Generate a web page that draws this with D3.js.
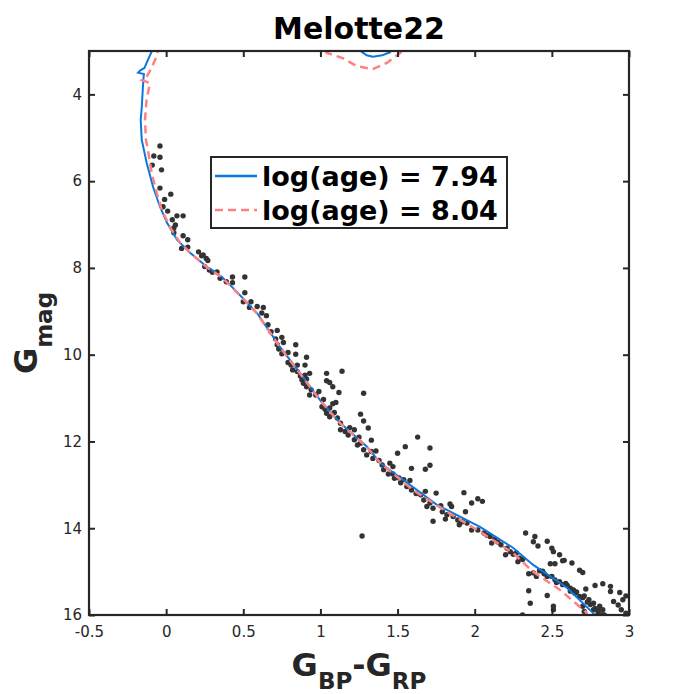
<!DOCTYPE html>
<html>
<head>
<meta charset="utf-8">
<script src="https://cdn.jsdelivr.net/npm/d3@7"></script>
<style>
  body { margin: 0; background: #fff; }
  svg { display: block; }
  text { font-family: "DejaVu Sans", sans-serif; }
</style>
</head>
<body>
<svg id="chart" width="694" height="694"></svg>
<script>
// Melotte22 colour-magnitude diagram
const titleText = 'Melotte22';
const xTicks = [-0.5, 0, 0.5, 1, 1.5, 2, 2.5, 3];
const yTicks = [4, 6, 8, 10, 12, 14, 16];
const legendLabels = ['log(age) = 7.94', 'log(age) = 8.04'];

// member stars: [BP-RP, G]
const stars = [
  [-0.04, 5.19], [-0.08, 5.42], [-0.04, 5.45], [-0.09, 5.63], [-0.03, 5.74], [-0.04, 6.16],
  [0.03, 6.30], [-0.01, 6.42], [-0.02, 6.59], [0.01, 6.69], [0.07, 6.80], [0.11, 6.80],
  [0.04, 6.89], [0.06, 7.01], [0.05, 7.08], [0.05, 7.19], [0.11, 7.26], [0.14, 7.35],
  [0.10, 7.55], [0.14, 7.52], [0.21, 7.63], [0.23, 7.72], [0.24, 7.70], [0.26, 7.78],
  [0.27, 7.83], [0.25, 7.97], [0.28, 8.05], [0.30, 8.10], [0.33, 8.09], [0.35, 8.24],
  [0.39, 8.32], [0.43, 8.21], [0.51, 8.21], [0.43, 8.34],
  [0.51, 8.57], [0.50, 8.78], [0.55, 8.78], [0.59, 8.89], [0.63, 8.91], [0.54, 8.91],
  [0.62, 9.04], [0.65, 9.10], [0.66, 9.31], [0.68, 9.47], [0.72, 9.44], [0.71, 9.64],
  [0.75, 9.60], [0.76, 9.72], [0.72, 9.77], [0.73, 9.87], [0.79, 9.95], [0.75, 9.98],
  [0.84, 9.77], [0.84, 9.99], [0.91, 10.06], [0.79, 10.18], [0.81, 10.24], [0.85, 10.24],
  [0.90, 10.24], [0.82, 10.35], [0.85, 10.39], [0.87, 10.49], [0.90, 10.47], [0.93, 10.43],
  [0.88, 10.58], [0.91, 10.56], [0.89, 10.66], [0.91, 10.74], [0.94, 10.81], [0.93, 10.93],
  [0.97, 10.93], [0.99, 10.85], [1.02, 11.03], [1.04, 10.43], [1.04, 10.60], [1.06, 10.64],
  [1.08, 10.74], [1.14, 10.38], [1.12, 10.87], [1.01, 11.20], [1.03, 11.26], [1.06, 11.23],
  [1.08, 11.13], [1.10, 11.10], [1.04, 11.35], [1.06, 11.43], [1.09, 11.33], [1.11, 11.46],
  [1.13, 11.58], [1.13, 11.73], [1.16, 11.77], [1.19, 11.68], [1.22, 11.73], [1.18, 11.85],
  [1.22, 11.96], [1.25, 11.90], [1.24, 12.08], [1.26, 12.04], [1.28, 10.89], [1.26, 11.37],
  [1.28, 11.53], [1.31, 11.69], [1.33, 11.97], [1.28, 12.19], [1.30, 12.31], [1.33, 12.23],
  [1.36, 12.22], [1.34, 12.39], [1.38, 12.44], [1.40, 12.54], [1.41, 12.65], [1.45, 12.50],
  [1.47, 12.58], [1.44, 12.75], [1.47, 12.75], [1.48, 12.85], [1.50, 12.27], [1.55, 12.12],
  [1.63, 11.90], [1.59, 12.62], [1.54, 12.88], [1.58, 12.90], [1.56, 13.04], [1.59, 13.12],
  [1.65, 13.23], [1.68, 13.15], [1.68, 12.64], [1.71, 12.55], [1.71, 12.15], [1.75, 13.19],
  [1.27, 14.18], [1.73, 13.84], [1.81, 13.79], [1.51, 12.84],
  [1.67, 13.35], [1.71, 13.42], [1.69, 13.50], [1.73, 13.54], [1.78, 13.48], [1.84, 13.44],
  [1.85, 13.50], [1.79, 13.62], [1.82, 13.69], [1.86, 13.73], [1.89, 13.81], [1.93, 13.18],
  [1.94, 13.62], [1.98, 13.42], [2.02, 13.32], [2.05, 13.38], [1.90, 13.92], [1.95, 13.88],
  [1.98, 14.04], [2.02, 14.04], [2.06, 14.11], [2.10, 14.19], [2.13, 14.25], [2.11, 14.34],
  [2.17, 14.38], [2.21, 14.46], [2.23, 14.54], [2.20, 14.61], [2.27, 14.57], [2.29, 14.69],
  [2.28, 14.77], [2.33, 14.11], [2.39, 14.19], [2.38, 14.31], [2.41, 14.41], [2.47, 14.30],
  [2.50, 14.46], [2.51, 14.54], [2.55, 14.61], [2.49, 14.82], [2.52, 14.82], [2.57, 14.75],
  [2.63, 14.80], [2.68, 14.97], [2.70, 15.02], [2.35, 15.05], [2.38, 15.03], [2.40, 15.11],
  [2.44, 14.99], [2.47, 15.11], [2.50, 15.11], [2.52, 15.19], [2.55, 15.23], [2.59, 15.27],
  [2.62, 15.38], [2.65, 15.50], [2.68, 15.57], [2.71, 15.56], [2.74, 15.65], [2.77, 15.73],
  [2.70, 15.80], [2.77, 15.88], [2.81, 15.80], [2.80, 15.96], [2.83, 16.00], [2.72, 15.40],
  [2.78, 15.32], [2.83, 15.28], [2.88, 15.34], [2.88, 15.46], [2.94, 15.48], [2.90, 15.69],
  [2.93, 15.77], [2.96, 15.65], [2.98, 15.56], [2.95, 15.88], [2.98, 15.96], [2.35, 15.44],
  [2.36, 15.73], [2.47, 15.55], [2.51, 15.80], [2.51, 15.88], [2.31, 16.00], [2.84, 16.00],
  [2.58, 14.74], [2.83, 15.88], [2.82, 16.00], [2.71, 15.92],
  [2.60, 15.32], [2.64, 15.42], [2.66, 15.47], [2.70, 15.60], [2.73, 15.70], [2.75, 15.76],
  [2.78, 15.85], [2.80, 15.90], [2.62, 15.45], [2.57, 15.30], [2.53, 15.25], [2.45, 15.05],
  [2.42, 14.98], [1.52, 12.95], [1.62, 13.20], [1.92, 13.85], [2.08, 14.16], [2.15, 14.32],
  [2.25, 14.60], [2.31, 14.72]
];

// isochrone log(age) = 7.94, from faint end up through the turn-off
const isoYoung = [
  [2.79, 16.05], [2.766, 15.95], [2.598, 15.37], [2.377, 14.84], [2.248, 14.45], [2.034, 13.97],
  [1.755, 13.46], [1.600, 13.05], [1.386, 12.49], [1.302, 12.12], [1.127, 11.57], [0.997, 11.04],
  [0.867, 10.42], [0.738, 9.82], [0.589, 9.04], [0.433, 8.46], [0.362, 8.21], [0.265, 7.98],
  [0.155, 7.65], [0.070, 7.35], [0.006, 6.96], [-0.040, 6.59], [-0.085, 6.13], [-0.126, 5.58],
  [-0.158, 5.05], [-0.165, 4.59], [-0.158, 4.29], [-0.148, 3.67], [-0.144, 3.53], [-0.182, 3.50],
  [-0.169, 3.45], [-0.140, 3.39], [-0.124, 3.25], [-0.092, 3.00], [-0.07, 2.7], [0.3, 1.6],
  [1.1, 1.8], [1.25, 2.9], [1.267, 3.02], [1.30, 3.10], [1.34, 3.13], [1.40, 3.10],
  [1.45, 3.03], [1.50, 2.8], [1.7, 1.0]
];

// isochrone log(age) = 8.04
const isoOld = [
  [2.715, 16.05], [2.727, 15.95], [2.552, 15.42], [2.377, 15.00], [2.248, 14.57], [2.034, 14.08],
  [1.820, 13.62], [1.600, 13.12], [1.386, 12.49], [1.302, 12.13], [1.127, 11.58], [0.997, 11.05],
  [0.867, 10.43], [0.738, 9.83], [0.589, 9.05], [0.433, 8.47], [0.362, 8.22], [0.265, 7.99],
  [0.155, 7.65], [0.090, 7.42], [0.025, 7.06], [-0.029, 6.66], [-0.061, 6.27], [-0.094, 5.81],
  [-0.118, 5.28], [-0.131, 5.05], [-0.137, 4.59], [-0.127, 4.13], [-0.105, 3.74], [-0.157, 3.67],
  [-0.124, 3.58], [-0.098, 3.41], [-0.072, 3.21], [-0.053, 3.00], [-0.03, 2.6], [0.4, 1.5],
  [0.95, 2.0], [1.040, 3.04], [1.148, 3.17], [1.235, 3.35], [1.338, 3.42], [1.433, 3.27],
  [1.516, 3.05], [1.6, 2.7], [1.8, 1.2]
];

const width = 694, height = 694;
const margin = { top: 51, right: 65, bottom: 79, left: 89 };
const axisColor = '#262626';

const svg = d3.select('#chart');

const x = d3.scaleLinear().domain([-0.5, 3]).range([margin.left, width - margin.right]);
const y = d3.scaleLinear().domain([3, 16]).range([margin.top, height - margin.bottom]);

svg.append('clipPath').attr('id', 'plotclip')
  .append('rect')
  .attr('x', x(-0.5)).attr('y', y(3))
  .attr('width', x(3) - x(-0.5)).attr('height', y(16) - y(3));

const plot = svg.append('g').attr('clip-path', 'url(#plotclip)');

// stars
plot.append('g')
  .selectAll('circle')
  .data(stars)
  .join('circle')
  .attr('cx', d => x(d[0]))
  .attr('cy', d => y(d[1]))
  .attr('r', 2.7)
  .attr('fill', '#333333');

const line = d3.line().x(d => x(d[0])).y(d => y(d[1]));

plot.append('path')
  .datum(isoYoung)
  .attr('d', line)
  .attr('fill', 'none')
  .attr('stroke', '#0a76e0')
  .attr('stroke-width', 2);

plot.append('path')
  .datum(isoOld)
  .attr('d', line)
  .attr('fill', 'none')
  .attr('stroke', '#ff8080')
  .attr('stroke-width', 2.5)
  .attr('stroke-dasharray', '8,5');

// axes, ticks inside
const styleAxis = g => {
  g.select('.domain').remove();
  g.selectAll('.tick line').attr('stroke', axisColor).attr('stroke-width', 2);
  g.selectAll('.tick text').attr('fill', axisColor)
    .style('font-family', '"DejaVu Sans", sans-serif').style('font-size', '15px');
};

svg.append('g')
  .attr('transform', `translate(0,${y(16)})`)
  .call(d3.axisBottom(x).tickValues(xTicks).tickSize(-6).tickPadding(11).tickFormat(d => String(d)))
  .call(styleAxis);

svg.append('g')
  .attr('transform', `translate(0,${y(3)})`)
  .call(d3.axisTop(x).tickValues(xTicks).tickSize(-6).tickFormat(''))
  .call(styleAxis);

svg.append('g')
  .attr('transform', `translate(${x(-0.5)},0)`)
  .call(d3.axisLeft(y).tickValues(yTicks).tickSize(-6).tickPadding(7))
  .call(styleAxis);

svg.append('g')
  .attr('transform', `translate(${x(3)},0)`)
  .call(d3.axisRight(y).tickValues(yTicks).tickSize(-6).tickFormat(''))
  .call(styleAxis);

svg.append('rect')
  .attr('x', x(-0.5)).attr('y', y(3))
  .attr('width', x(3) - x(-0.5)).attr('height', y(16) - y(3))
  .attr('fill', 'none')
  .attr('stroke', axisColor)
  .attr('stroke-width', 2.2);

// title
svg.append('text')
  .attr('x', (x(-0.5) + x(3)) / 2)
  .attr('y', 39)
  .attr('text-anchor', 'middle')
  .style('font-size', '30px')
  .style('font-weight', 'bold')
  .attr('fill', '#000')
  .text(titleText);

// x label G_BP - G_RP
const xl = svg.append('text')
  .attr('x', (x(-0.5) + x(3)) / 2)
  .attr('y', 676)
  .attr('text-anchor', 'middle')
  .style('font-size', '32px')
  .style('font-weight', 'bold')
  .attr('fill', axisColor);
xl.append('tspan').text('G');
xl.append('tspan').attr('dy', 13).style('font-size', '23px').text('BP');
xl.append('tspan').attr('dy', -13).text('-G');
xl.append('tspan').attr('dy', 13).style('font-size', '23px').text('RP');

// y label G_mag
const yl = svg.append('text')
  .attr('transform', `translate(37,${(y(3) + y(16)) / 2}) rotate(-90)`)
  .attr('text-anchor', 'middle')
  .style('font-size', '32px')
  .style('font-weight', 'bold')
  .attr('fill', axisColor);
yl.append('tspan').text('G');
yl.append('tspan').attr('dy', 15).style('font-size', '23px').text('mag');

// legend
const legend = svg.append('g').attr('transform', 'translate(211,157)');
legend.append('rect')
  .attr('width', 296).attr('height', 71)
  .attr('fill', '#fff')
  .attr('stroke', axisColor)
  .attr('stroke-width', 2);
const rows = [
  { label: legendLabels[0], color: '#0a76e0', dash: null, w: 2.5 },
  { label: legendLabels[1], color: '#ff8080', dash: '8,5', w: 2.5 }
];
rows.forEach((r, i) => {
  const cy = 19 + i * 34;
  legend.append('line')
    .attr('x1', 4).attr('x2', 46).attr('y1', cy).attr('y2', cy)
    .attr('stroke', r.color).attr('stroke-width', r.w)
    .attr('stroke-dasharray', r.dash);
  legend.append('text')
    .attr('x', 51).attr('y', cy + 10)
    .style('font-size', '27px')
    .style('font-weight', 'bold')
    .attr('fill', '#000')
    .text(r.label);
});
</script>
</body>
</html>
